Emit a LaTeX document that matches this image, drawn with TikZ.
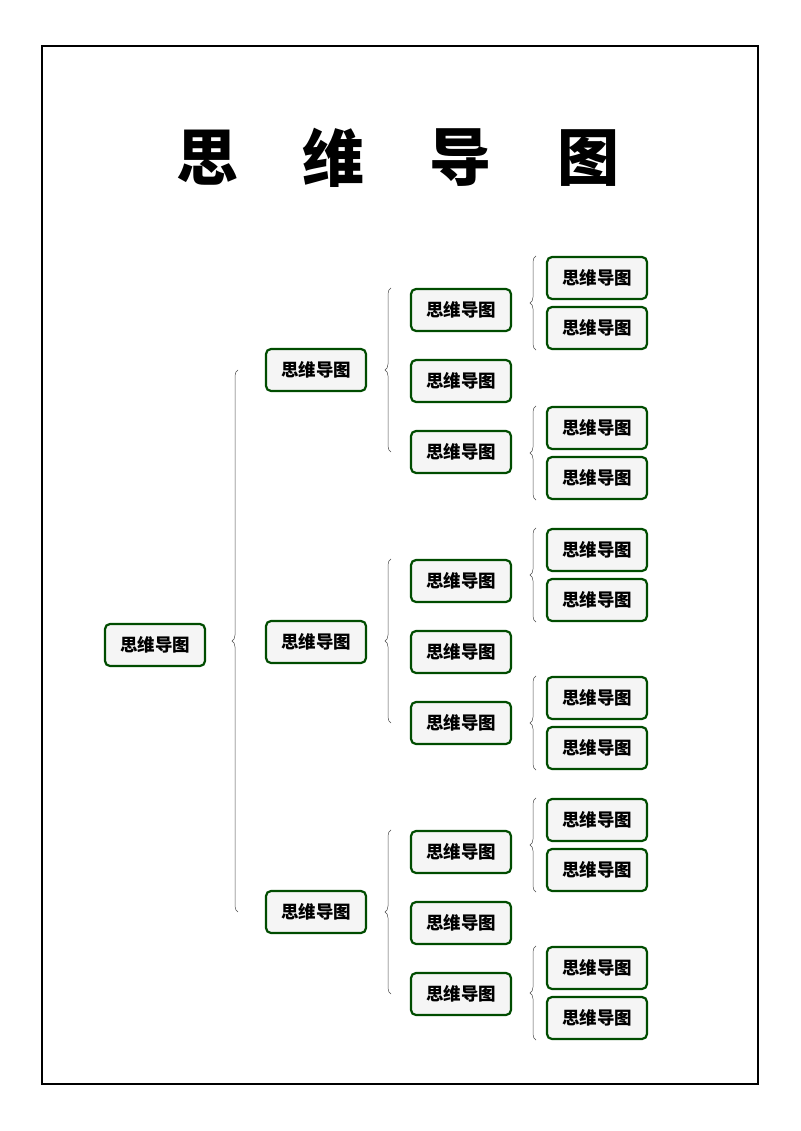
\documentclass[tikz,border=0pt]{standalone}
\usepackage{fontspec}
\newfontfamily\cjk{Noto Sans CJK SC}
\usetikzlibrary{decorations.pathreplacing}

\tikzset{
  mapbox/.style={draw=green!30!black, line width=2.2pt, fill=gray!8, rounded corners=5pt,
    minimum width=100pt, minimum height=42pt, font=\cjk\bfseries\fontsize{17.5}{17.5}\selectfont},
  curly/.style={draw=black!70, line width=0.5pt, decorate, decoration={brace, amplitude=6pt}}
}

\begin{document}
\begin{tikzpicture}[x=1pt, y=-1pt]
  \useasboundingbox (0,0) rectangle (800,1131);
  \draw[line width=1.2pt] (42,46) rectangle (758,1084);
  % title
  \foreach \tx/\ch in {207/思, 333/维, 460/导, 588/图}
    \node[font=\cjk\bfseries\fontsize{62}{62}\selectfont] (t\tx) at (\tx,158) {\ch};

  \node[mapbox] (root) at (155,645) {思维导图};
  \foreach \i/\y in {1/370, 2/642, 3/912}
    \node[mapbox] (a\i) at (316,\y) {思维导图};
  \draw[curly] (238,0 |- a3.center) -- (238,0 |- a1.center);

  \foreach \i/\y in {1/310, 2/581, 3/852} {
    \node[mapbox] (b\i1) at (461,\y) {思维导图};
    \node[mapbox] (b\i2) at (461,\y+71) {思维导图};
    \node[mapbox] (b\i3) at (461,\y+142) {思维导图};
    \draw[curly] (391,0 |- b\i3.center) -- (391,0 |- b\i1.north);
  }

  \foreach \i/\y in {1/278, 2/428, 3/550, 4/698, 5/820, 6/968} {
    \node[mapbox] (c\i1) at (597,\y) {思维导图};
    \node[mapbox] (c\i2) at (597,\y+50) {思维导图};
    \draw[curly] (536,0 |- c\i2.south) -- (536,0 |- c\i1.north);
  }
\end{tikzpicture}
\end{document}
